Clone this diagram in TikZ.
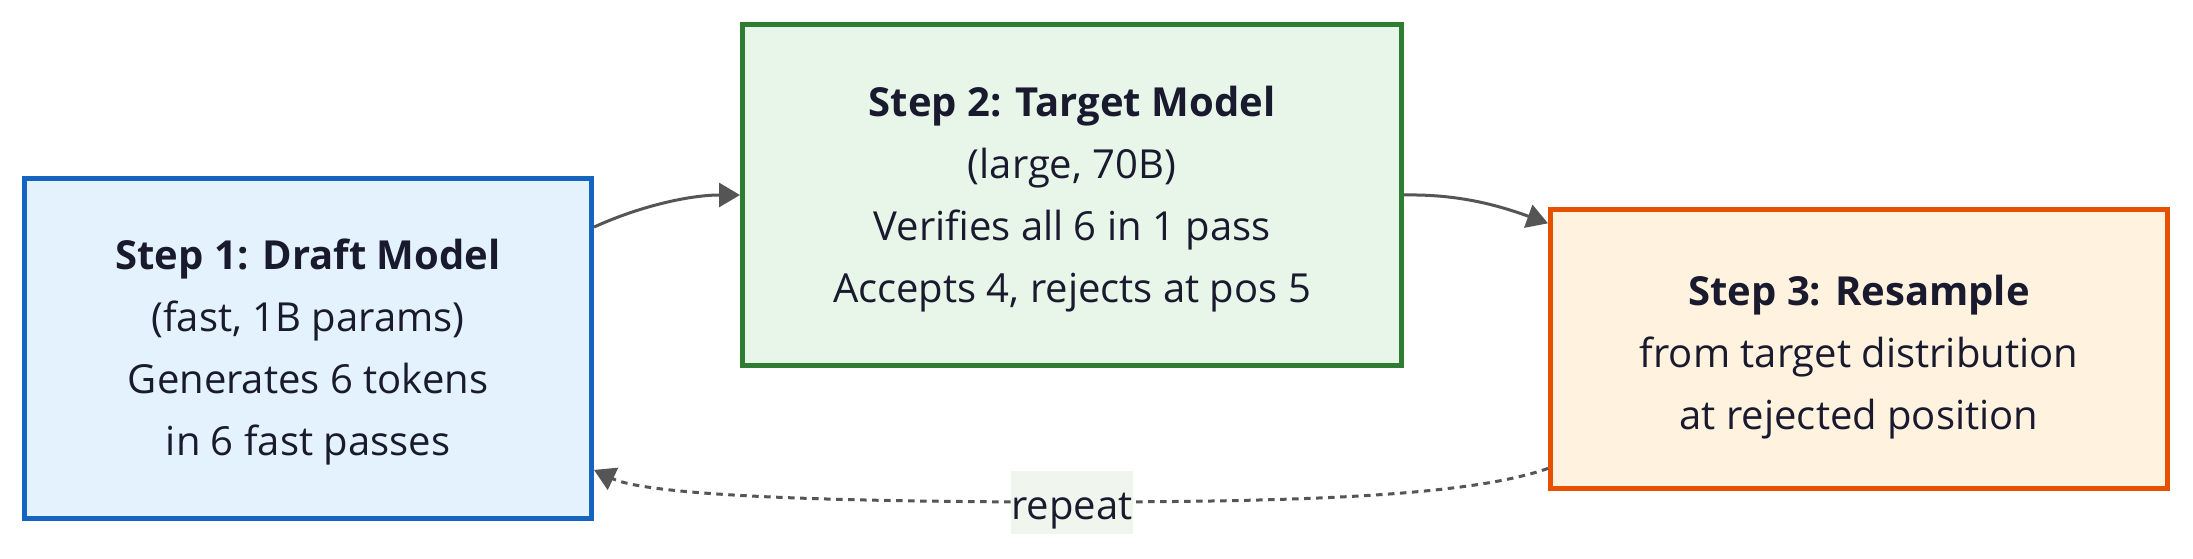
\documentclass[tikz,border=0pt]{standalone}
\usepackage{fontspec}
\setmainfont{Open Sans}
\usetikzlibrary{arrows.meta}
\definecolor{txt}{RGB}{26,26,46}
\definecolor{b1line}{HTML}{1565C0}
\definecolor{b1fill}{HTML}{E3F2FD}
\definecolor{b2line}{HTML}{2E7D32}
\definecolor{b2fill}{HTML}{E8F5E9}
\definecolor{b3line}{HTML}{E65100}
\definecolor{b3fill}{HTML}{FFF3E0}
\definecolor{arr}{HTML}{555555}
\definecolor{lblbg}{RGB}{240,246,238}
\tikzset{
  stepbox/.style={draw, line width=5pt, inner sep=0pt, align=center, text=txt,
    font=\fontsize{40}{62}\selectfont},
  flow/.style={draw=arr, line width=3pt, -{Triangle[length=21pt,width=24pt]}},
  loopflow/.style={flow, dash pattern=on 6.5pt off 5.5pt},
  lbl/.style={fill=lblbg, inner sep=0pt, minimum width=120pt, minimum height=63pt,
    text=txt, font=\fontsize{40}{62}\selectfont, text height=44pt, text depth=10pt}
}
\begin{document}
\begin{tikzpicture}[x=1pt,y=1pt]
\fill[white] (0,0) rectangle (2193,558);
\useasboundingbox (0,0) rectangle (2193,558);
\node[stepbox, draw=b1line, fill=b1fill, minimum width=567pt, minimum height=340pt] (b1) at (308,209.5)
  {\rule{0pt}{38pt}\textbf{Step 1: Draft Model}\\(fast, 1B params)\\Generates 6 tokens\\in 6 fast passes};
\node[stepbox, draw=b2line, fill=b2fill, minimum width=659pt, minimum height=341pt] (b2) at (1072,363)
  {\rule{0pt}{38pt}\textbf{Step 2: Target Model}\\(large, 70B)\\Verifies all 6 in 1 pass\\Accepts 4, rejects at pos 5};
\node[stepbox, draw=b3line, fill=b3fill, minimum width=617pt, minimum height=279pt] (b3) at (1859,209)
  {\rule{0pt}{46pt}\textbf{Step 3: Resample}\\from target distribution\\at rejected position};
\draw[flow] (b1.23.3) .. controls (640,352) and (690,363) .. (b2.west);
\draw[flow] (b2.east) .. controls (1460,364) and (1500,352) .. (b3.158.3);
\coordinate (m) at (1072,56);
\draw[loopflow] (b3.201.7) .. controls (1470,62) and (1300,56) .. (m)
  .. controls (800,56) and (645,64) .. (b1.337.2);
\node[lbl] (rep) at (1072,55.5) {repeat};
\end{tikzpicture}
\end{document}
